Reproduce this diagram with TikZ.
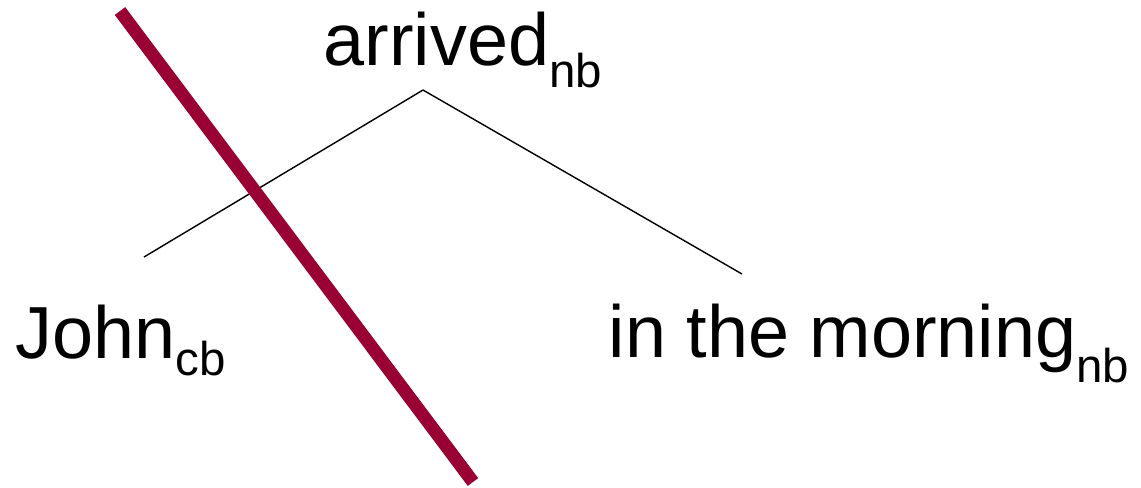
\documentclass[tikz,border=0pt]{standalone}
\usepackage{fontspec}
\setmainfont{Liberation Sans}
\definecolor{strikered}{RGB}{153,0,51}
\newcommand{\lowtag}[2][0.2cm]{\raisebox{-#1}{\fontsize{13.5}{14}\selectfont #2}}
\tikzset{word/.style={inner sep=0pt, anchor=base west, font=\fontsize{21}{24}\selectfont}}

\begin{document}
\begin{tikzpicture}
    \useasboundingbox (0,0) rectangle (11.41,-4.87);

    % Words
    \node[word] (V) at (3.23,-0.65) {arrived\lowtag[0.22cm]{nb}};
    \node[word] (S) at (0.15,-3.58) {John\lowtag[0.17cm]{cb}};
    \node[word] (PP) at (6.08,-3.57) {in the morning\lowtag[0.25cm]{nb}};

    % Branch points
    \coordinate (top) at (4.23,-0.90);
    \coordinate (left) at (1.44,-2.57);
    \coordinate (right) at (7.42,-2.74);
    \coordinate (cutA) at (1.20,-0.11);
    \coordinate (cutB) at (4.73,-4.82);

    % Edges
    \draw (top) -- (left);
    \draw (top) -- (right);
    \draw[strikered, line width=3.7pt] (cutA) -- (cutB);
\end{tikzpicture}
\end{document}
